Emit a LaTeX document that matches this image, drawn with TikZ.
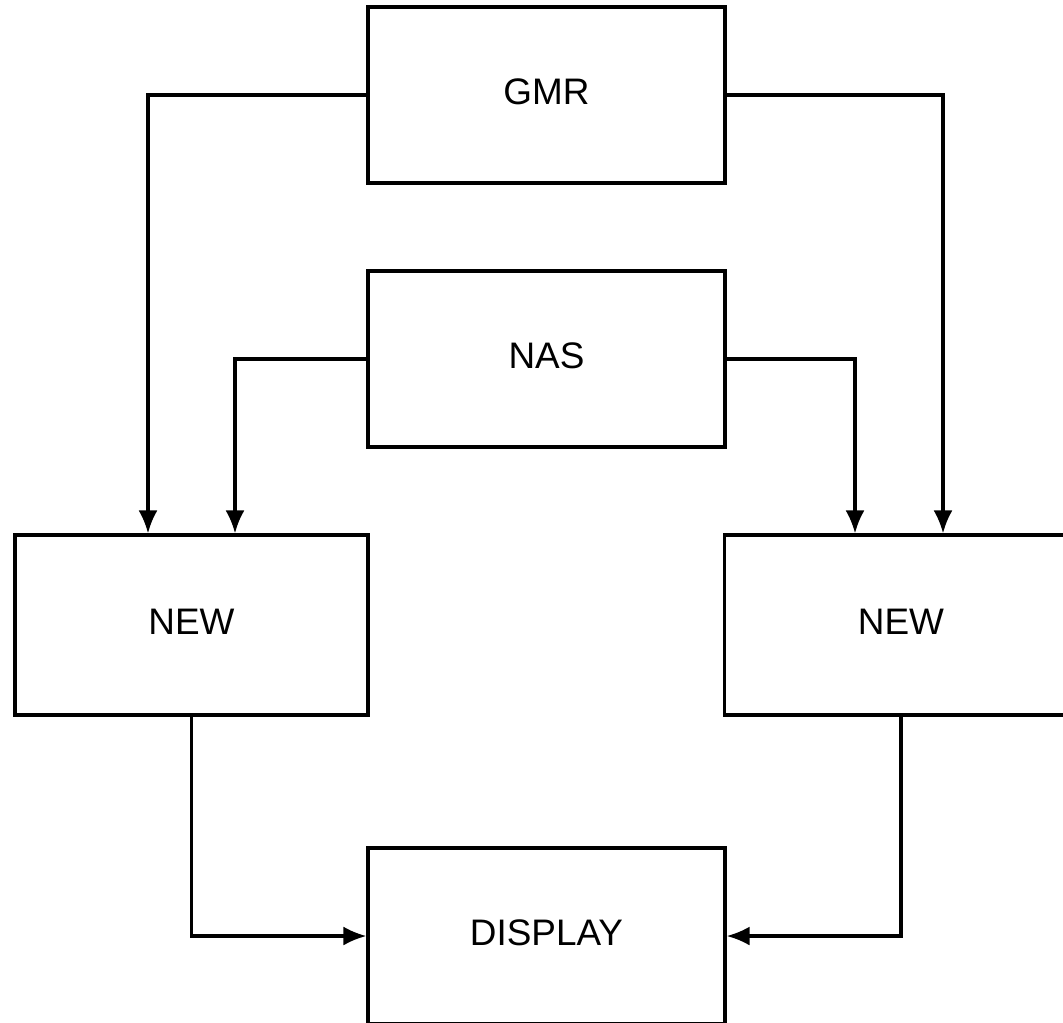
\documentclass[tikz,border=0pt]{standalone}
\usepackage{fontspec}
\setmainfont{Liberation Sans}
\usetikzlibrary{arrows.meta}
\begin{document}
\begin{tikzpicture}[>={Latex[length=2.3mm,width=1.9mm]},
    blok/.style={draw, line width=0.9pt, minimum width=3.57cm, minimum height=1.76cm,
        font=\fontsize{10.5}{12}\selectfont, text depth=0.7mm, inner sep=0pt},
    conn/.style={->, line width=0.9pt}]
    % 1. Khung hinh (cat theo mep anh)
    \useasboundingbox (0,0) rectangle (10.63,-10.22);
    \clip (0,0) rectangle (10.63,-10.22);

    % 2. Cac khoi
    \node[blok] (gmr) at (5.465,-0.95) {GMR};
    \node[blok] (nas) at (5.465,-3.59) {NAS};
    \node[blok, minimum width=3.53cm, minimum height=1.80cm] (newl) at (1.915,-6.25) {NEW};
    \node[blok, minimum width=3.53cm, minimum height=1.80cm] (newr) at (9.01,-6.25) {NEW};
    \node[blok] (disp) at (5.465,-9.36) {DISPLAY};

    % 3. Duong noi tu GMR va NAS xuong hai khoi NEW
    \draw[conn] (gmr.west) -| ([xshift=-0.435cm]newl.north);
    \draw[conn] (nas.west) -| ([xshift=0.435cm]newl.north);
    \draw[conn] (nas.east) -| ([xshift=-0.46cm]newr.north);
    \draw[conn] (gmr.east) -| ([xshift=0.42cm]newr.north);

    % 4. Duong noi tu hai khoi NEW vao DISPLAY
    \draw[conn] (newl.south) |- (disp.west);
    \draw[conn] (newr.south) |- (disp.east);

\end{tikzpicture}
\end{document}
